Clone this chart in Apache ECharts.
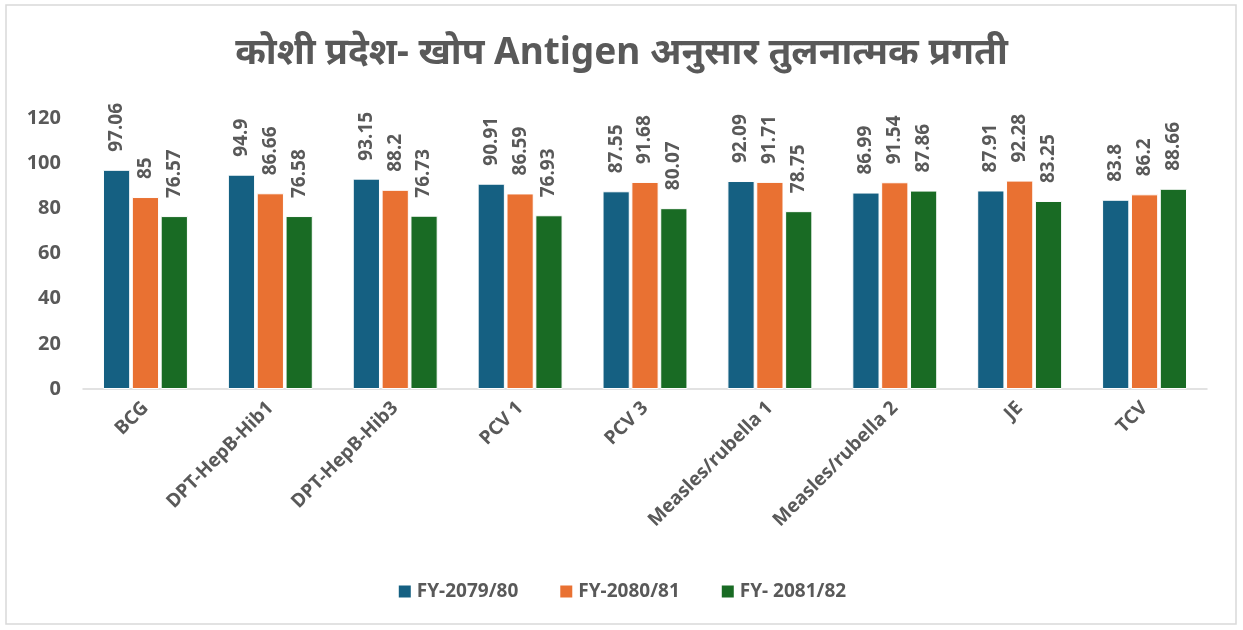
<!DOCTYPE html>
<html>
<head>
<meta charset="utf-8">
<script src="https://cdn.jsdelivr.net/npm/echarts@6/dist/echarts.min.js"></script>
<style>
  html, body { margin: 0; padding: 0; background: #fff; }
  #main { width: 1243px; height: 630px; }
</style>
</head>
<body>
<div id="main"></div>
<script>
var categories = ['BCG', 'DPT-HepB-Hib1', 'DPT-HepB-Hib3', 'PCV 1', 'PCV 3', 'Measles/rubella 1', 'Measles/rubella 2', 'JE', 'TCV'];
var seriesNames = ['FY-2079/80', 'FY-2080/81', 'FY- 2081/82'];
var fy7980 = [97.06, 94.9, 93.15, 90.91, 87.55, 92.09, 86.99, 87.91, 83.8];
var fy8081 = [85, 86.66, 88.2, 86.59, 91.68, 91.71, 91.54, 92.28, 86.2];
var fy8182 = [76.57, 76.58, 76.73, 76.93, 80.07, 78.75, 87.86, 83.25, 88.66];
var colors = ['#156082', '#E97132', '#196B24'];

var textColor = '#595959';
var fontFam = '"Noto Sans", "Open Sans", sans-serif';

var myChart = echarts.init(document.getElementById('main'));

function makeSeries(name, data) {
    return {
        name: name,
        type: 'bar',
        data: data,
        barGap: '6%',
        barCategoryGap: '32%',
        itemStyle: { borderColor: '#ffffff', borderWidth: 1 },
        label: {
            show: true,
            position: 'top',
            rotate: 90,
            align: 'left',
            verticalAlign: 'middle',
            distance: 18,
            color: textColor,
            fontSize: 19,
            fontWeight: 'bold',
            fontFamily: fontFam
        }
    };
}

var option = {
    color: colors,
    animation: false,
    title: {
        text: 'कोशी प्रदेश- खोप Antigen अनुसार तुलनात्मक प्रगती',
        left: 'center',
        top: 30,
        textStyle: { color: textColor, fontSize: 37, fontWeight: 'bold', fontFamily: fontFam }
    },
    legend: {
        bottom: 24,
        left: 'center',
        itemWidth: 14,
        itemHeight: 14,
        itemGap: 40,
        icon: 'rect',
        textStyle: { color: textColor, fontSize: 19, fontWeight: 'bold', fontFamily: fontFam },
        data: seriesNames
    },
    grid: { left: 83, right: 36, top: 118, bottom: 241, containLabel: false },
    xAxis: {
        type: 'category',
        data: categories,
        axisTick: { show: false },
        axisLine: { lineStyle: { color: '#d9d9d9', width: 1.5 } },
        axisLabel: {
            rotate: 45,
            interval: 0,
            margin: 16,
            color: textColor,
            fontSize: 19,
            fontWeight: 'bold',
            fontFamily: fontFam
        }
    },
    yAxis: {
        type: 'value',
        min: 0,
        max: 120,
        interval: 20,
        splitLine: { show: false },
        axisLine: { show: false },
        axisTick: { show: false },
        axisLabel: { color: textColor, fontSize: 20, fontWeight: 'bold', fontFamily: fontFam, margin: 22 }
    },
    graphic: [{
        type: 'rect',
        shape: { x: 6, y: 5, width: 1230, height: 619 },
        style: { fill: 'none', stroke: '#d9d9d9', lineWidth: 1.5 },
        silent: true
    }],
    series: [
        makeSeries(seriesNames[0], fy7980),
        makeSeries(seriesNames[1], fy8081),
        makeSeries(seriesNames[2], fy8182)
    ]
};

myChart.setOption(option);
</script>
</body>
</html>
